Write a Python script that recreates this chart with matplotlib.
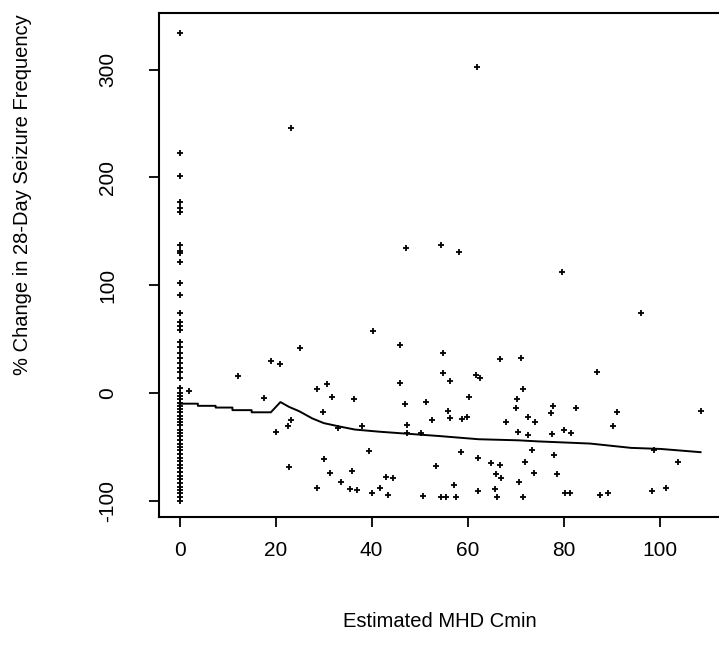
import matplotlib
matplotlib.use("Agg")
import matplotlib.pyplot as plt

plt.rcParams['font.family'] = ['Liberation Sans', 'DejaVu Sans']

# patients with no MHD measured (Cmin = 0)
zero_y = [334, 223, 201, 177, 172, 168, 137, 132, 130, 121, 102, 91, 74, 66,
          62, 58, 47, 43, 37, 32, 28, 23, 19, 14, 5, 0, -3, -6, -9, -12, -15,
          -18, -21, -24, -27, -30, -34, -37, -40, -44, -47, -50, -53, -57, -60,
          -63, -67, -70, -73, -77, -80, -84, -87, -90, -93, -97, -100]

# patients with measured Cmin
cmin = [2, 12.2, 17.6, 19, 21, 20, 23.2, 22.6, 23.2, 22.8, 25, 28.6, 30.6, 31.7,
        29.8, 30, 31.3, 28.6, 33, 33.7, 35.4, 35.8, 36.3, 36.9, 37.9, 39.5, 40,
        40.2, 41.8, 43, 43.3, 44.5, 45.8, 45.8, 47, 47.2, 47.4, 47.4, 50.3, 50.7,
        51.3, 52.6, 53.4, 54.5, 54.5, 54.9, 54.9, 55.5, 55.9, 56.3, 56.3, 57.1,
        57.6, 58.2, 58.6, 58.8, 59.8, 60.2, 61.7, 62.5, 62, 62.1, 62.1, 64.8,
        65.6, 65.8, 66, 66.7, 66.7, 66.9, 67.9, 70, 70.2, 70.4, 70.6, 71.2, 71.6,
        71.6, 72, 72.5, 72.5, 73.3, 73.9, 74.1, 77.4, 77.6, 77.8, 78, 78.5, 79.7,
        80.1, 80.3, 81.2, 81.6, 82.6, 87, 87.6, 89.2, 90.3, 91.1, 96, 98.3, 98.8,
        101.4, 103.7, 108.5]
change = [2, 16, -5, 30, 27, -36, 246, -31, -25, -69, 42, 4, 8, -4,
          -18, -61, -74, -88, -33, -83, -89, -72, -6, -90, -31, -54, -93,
          57, -88, -78, -95, -79, 44, 9, -10, 134, -30, -37, -37, -96,
          -8, -25, -68, 137, -97, 37, 18, -97, -17, 11, -23, -85,
          -97, 131, -55, -24, -22, -4, 17, 14, 302, -60, -91, -65,
          -89, -75, -97, 31, -67, -79, -27, -14, -6, -36, -83, 32, 4,
          -97, -64, -22, -39, -53, -74, -27, -19, -38, -12, -58, -75, 112,
          -34, -93, -93, -37, -14, 19, -95, -93, -31, -18, 74, -91, -53,
          -88, -64, -17]

# lowess smooth
smooth_x = [0, 3.8, 3.8, 7.5, 7.5, 11, 11, 15, 15, 19, 21, 22.8, 24.9, 27.6,
            30, 33.1, 36.5, 41.6, 54, 62.3, 70.6, 74.7, 85.5, 94, 100.2, 108.5]
smooth_y = [-10, -10, -12, -12, -13.6, -13.6, -16, -16, -18, -18, -8.5, -13,
            -17, -23.6, -28, -31, -34, -36, -40, -43, -44, -45, -47, -51, -52, -55]

fig = plt.figure(figsize=(7.19, 6.68), dpi=100)
ax = fig.add_axes([0.2211, 0.2253, 0.782, 0.7545])

ax.plot([0] * len(zero_y), zero_y, '+', color='black', ms=4, mew=1.3)
ax.plot(cmin, change, '+', color='black', ms=4, mew=1.3)
ax.plot(smooth_x, smooth_y, '-', color='black', lw=1.4)

ax.set_xlim(-4.3, 112.8)
ax.set_ylim(-115.6, 352)
ax.set_xticks([0, 20, 40, 60, 80, 100])
ax.set_yticks([-100, 0, 100, 200, 300])
ax.set_yticklabels(['-100', '0', '100', '200', '300'], rotation=90, va='center')
ax.tick_params(axis='both', length=7.2, width=1.3, labelsize=15)
ax.tick_params(axis='x', pad=9.5)
ax.tick_params(axis='y', pad=23)
for s in ax.spines.values():
    s.set_linewidth(1.5)

ax.set_xlabel('Estimated MHD Cmin', fontsize=14.5)
ax.set_ylabel('% Change in 28-Day Seizure Frequency', fontsize=14.5)
ax.xaxis.set_label_coords(0.5, -0.207)
ax.xaxis.label.set_va('center')
ax.yaxis.set_label_coords(-0.242, 0.64)
ax.yaxis.label.set_va('center')

fig.savefig('out.png', dpi=100)
